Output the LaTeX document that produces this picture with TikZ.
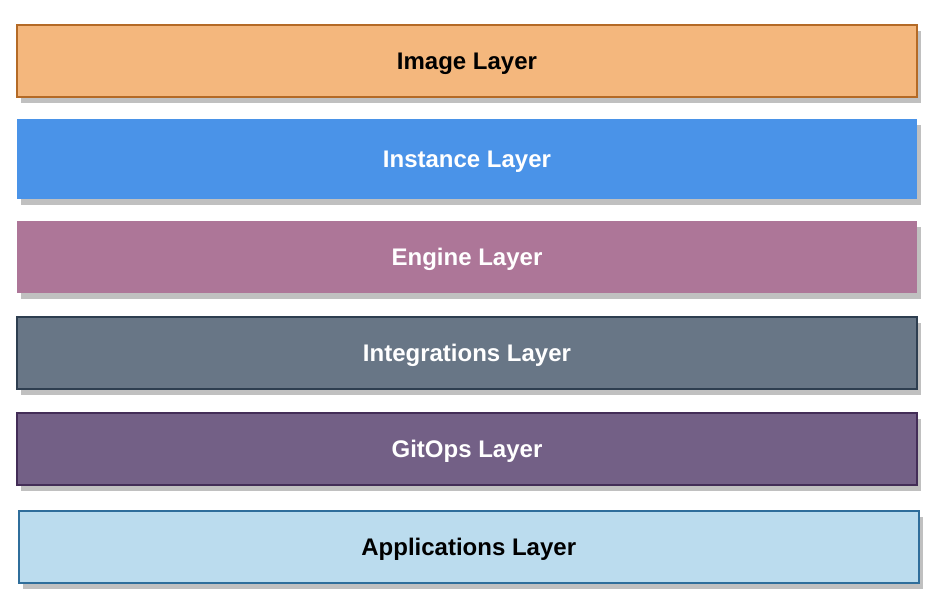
\documentclass[tikz,border=0pt]{standalone}
\usepackage{fontspec}
\setmainfont{Liberation Sans}
\definecolor{imgfill}{HTML}{F4B77D}
\definecolor{imgline}{HTML}{B46A26}
\definecolor{instfill}{HTML}{4A93E8}
\definecolor{engfill}{HTML}{AD7698}
\definecolor{intfill}{HTML}{687686}
\definecolor{intline}{HTML}{2E3E50}
\definecolor{gitfill}{HTML}{736086}
\definecolor{gitline}{HTML}{432D57}
\definecolor{appfill}{HTML}{BBDCEE}
\definecolor{appline}{HTML}{2F6E9B}
\definecolor{shadowgray}{HTML}{C0C0C0}
\tikzset{
  layer/.style={line width=2pt},
  label/.style={midway, anchor=base, yshift=-8.5pt,
    font=\fontsize{24}{28}\selectfont\bfseries}
}
\begin{document}
\begin{tikzpicture}[x=1pt,y=-1pt]
\useasboundingbox (0,0) rectangle (936,608);
% drop shadows
\foreach \xa/\ya/\xb/\yb in {17/25/917/97, 17/119/917/198.7, 17/221/917/293, 17/317/917/389, 17/413/917/485, 18.5/511/919/583}{
  \fill[shadowgray] (\xa+4,\ya+6) rectangle (\xb+4,\yb+6);
}
% layers
\draw[layer, fill=imgfill, draw=imgline] (17,25) rectangle (917,97)
  node[label, text=black] (image) {Image Layer};
\fill[layer, fill=instfill] (17,119) rectangle (917,198.7)
  node[label, text=white] (instance) {Instance Layer};
\fill[layer, fill=engfill] (17,221) rectangle (917,293)
  node[label, text=white] (engine) {Engine Layer};
\draw[layer, fill=intfill, draw=intline] (17,317) rectangle (917,389)
  node[label, text=white] (integrations) {Integrations Layer};
\draw[layer, fill=gitfill, draw=gitline] (17,413) rectangle (917,485)
  node[label, text=white] (gitops) {GitOps Layer};
\draw[layer, fill=appfill, draw=appline] (18.5,511) rectangle (919,583)
  node[label, text=black] (applications) {Applications Layer};
\end{tikzpicture}
\end{document}
